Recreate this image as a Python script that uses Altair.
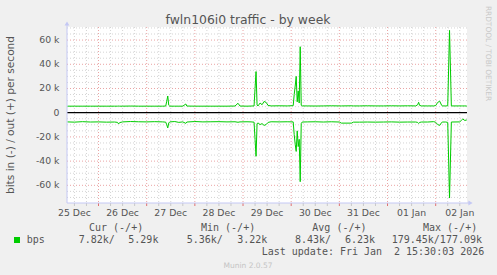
import altair as alt
import pandas as pd

# ---------------- data ----------------
# hours since 25 Dec 00:00
hours = [8.5, 12, 16, 20, 24, 28, 32, 33.5, 34, 34.5,
         36, 40, 44, 48, 52, 56, 57.5, 58, 58.5, 59,
         59.5, 62, 64, 66, 67.5, 68, 72, 76, 80, 84,
         88, 92, 93.5, 94.5, 98, 100, 101.5, 102, 102.5, 103,
         103.5, 104.5, 105.5, 106.5, 107.5, 108.5, 110, 114, 118, 121,
         121.5, 122, 122.5, 123, 123.5, 124, 124.5, 125, 125.5, 128,
         132, 136, 140, 144, 145, 150, 151, 154, 158, 162,
         166, 170, 174, 178, 182, 183, 183.5, 184, 185, 188,
         191, 192, 193, 194, 195, 195.5, 197, 198, 198.9, 199.8,
         204, 205, 205.5, 206.5, 207.5]
# out (+) in kbit/s
out_k = [5.4, 5.4, 5.4, 5.4, 5.4, 5.4, 5.4, 5.4, 5.5, 5.4,
         5.4, 5.5, 5.4, 5.4, 5.4, 5.4, 5.5, 9.5, 13.8, 6.2,
         5.4, 5.4, 5.4, 5.4, 7.2, 5.5, 5.4, 5.4, 5.4, 5.4,
         5.4, 5.5, 7.8, 5.5, 5.4, 5.5, 5.6, 20, 34, 6.2,
         5.6, 8.0, 6.6, 9.3, 8.5, 6.0, 5.6, 5.7, 5.6, 5.8,
         15, 22, 30, 9, 18, 8, 54.5, 6.2, 5.6, 5.6,
         5.5, 5.6, 5.7, 5.6, 5.6, 5.7, 5.6, 5.6, 5.7, 5.6,
         5.6, 5.7, 5.6, 5.7, 5.6, 6.5, 8.6, 6.0, 5.6, 5.6,
         5.6, 5.9, 8.5, 9.5, 6.0, 5.6, 5.6, 5.7, 68, 5.6,
         5.6, 5.6, 5.6, 5.6, 5.5]
# in (-) in kbit/s
in_k = [-7.6, -7.8, -7.4, -7.7, -7.6, -7.8, -7.7, -8.0, -9.3, -8.2,
        -7.6, -7.3, -7.5, -7.6, -7.4, -7.6, -7.8, -10.0, -12.6, -8.5,
        -7.6, -7.3, -8.0, -7.6, -8.8, -7.7, -7.3, -7.6, -7.5, -7.4,
        -7.6, -7.5, -7.9, -7.6, -7.5, -7.6, -7.8, -22, -36, -9.0,
        -8.5, -9.8, -9.0, -10.5, -9.8, -8.0, -7.5, -7.6, -7.5, -7.6,
        -18, -26, -32, -15, -28, -22, -57, -9, -7.7, -7.6,
        -7.5, -7.7, -7.5, -7.7, -8.6, -8.6, -7.8, -7.8, -7.7, -7.8,
        -7.7, -7.6, -7.8, -7.7, -7.7, -8.0, -8.9, -8.0, -7.7, -7.7,
        -7.4, -7.9, -9.8, -10.5, -8.0, -7.7, -7.7, -8.0, -70.5, -7.7,
        -7.6, -6.0, -5.2, -6.4, -6.0]
assert len(hours) == len(out_k) == len(in_k)

day_label_hours = [12, 36, 60, 84, 108, 132, 156, 180, 204]
day_labels = ["25 Dec", "26 Dec", "27 Dec", "28 Dec", "29 Dec",
              "30 Dec", "31 Dec", "01 Jan", "02 Jan"]
midnight_hours = [24, 48, 72, 96, 120, 144, 168, 192]
minor_hours = [12, 18, 30, 36, 42, 54, 60, 66, 78, 84, 90, 102, 108, 114,
               126, 132, 138, 150, 156, 162, 174, 180, 186, 198, 204]

ytick_vals = [-60000, -40000, -20000, 0, 20000, 40000, 60000]
ytick_labels = ["-60 k", "-40 k", "-20 k", "0", "20 k", "40 k", "60 k"]
y_major = [-60000, -40000, -20000, 20000, 40000, 60000]
y_minor = [-70000, -65000, -55000, -50000, -45000, -35000, -30000, -25000,
           -15000, -10000, -5000, 5000, 10000, 15000, 25000, 30000, 35000,
           45000, 50000, 55000, 65000, 70000]

title_text = "fwln106i0 traffic - by week"
y_title = "bits in (-) / out (+) per second"
series_name = "bps"
cur_vals = ["7.82k/", "5.29k"]
min_vals = ["5.36k/", "3.22k"]
avg_vals = ["8.43k/", "6.23k"]
max_vals = ["179.45k/177.09k"]
last_update = ["Last update: Fri Jan", "2 15:30:03 2026"]
munin_version = "Munin 2.0.57"
rrd_credit = "RRDTOOL / TOBI OETIKER"

# ---------------- layout ----------------
W, H = 497, 275
L, T = 67, 27
PW, PH = 400, 176
GREEN = "#00cc00"
TXT = "#555555"
AXC = "#c4c8f4"

xs = alt.Scale(domain=[8.3, 207.6], nice=False, zero=False)
ys = alt.Scale(domain=[-74600, 70800], nice=False, zero=False)

n = len(hours)
df = pd.DataFrame({
    "h": hours + hours,
    "v": [o * 1000 for o in out_k] + [i * 1000 for i in in_k],
    "s": ["out"] * n + ["in"] * n,
})


def vrules(vals, color, y0=0, y1=PH, dash=None):
    kw = dict(color=color, strokeWidth=1)
    if dash:
        kw["strokeDash"] = dash
    return alt.Chart(pd.DataFrame({"h": vals})).mark_rule(**kw).encode(
        x=alt.X("h:Q", scale=xs, axis=None), y=alt.value(y0), y2=alt.value(y1))


def hrules(vals, color, dash=None, width=1):
    kw = dict(color=color, strokeWidth=width)
    if dash:
        kw["strokeDash"] = dash
    return alt.Chart(pd.DataFrame({"v": vals})).mark_rule(**kw).encode(
        y=alt.Y("v:Q", scale=ys, axis=None), x=alt.value(0), x2=alt.value(PW))


def label(text, x, y, size=10, font="DejaVu Sans Mono", align="left",
          baseline="alphabetic", color=TXT, angle=0):
    return alt.Chart(alt.Data(values=[{"t": text}])).mark_text(
        align=align, baseline=baseline, font=font, fontSize=size,
        color=color, angle=angle).encode(
        text="t:N", x=alt.value(x - L), y=alt.value(y - T))


layers = [
    vrules(minor_hours, "#d4d4d4", dash=[1, 2]),
    hrules(y_minor, "#d4d4d4", dash=[1, 2]),
    vrules(midnight_hours, "#eaa4a4", dash=[1, 2]),
    hrules(y_major, "#eaa4a4", dash=[1, 2]),
    vrules(minor_hours, "#c8c8c8", y0=PH, y1=PH + 3),
    vrules(midnight_hours, "#e07070", y0=PH, y1=PH + 3),
    hrules([0], "#000000", width=1.2),
    alt.Chart(df).mark_line(color=GREEN, strokeWidth=1).encode(
        x=alt.X("h:Q", scale=xs, axis=None),
        y=alt.Y("v:Q", scale=ys, axis=None),
        detail="s:N"),
    # axes with arrows
    alt.Chart(alt.Data(values=[{}])).mark_rule(color=AXC, strokeWidth=1).encode(
        x=alt.value(0), x2=alt.value(PW + 3), y=alt.value(PH)),
    alt.Chart(alt.Data(values=[{}])).mark_rule(color=AXC, strokeWidth=1).encode(
        x=alt.value(0), y=alt.value(PH), y2=alt.value(-2)),
    alt.Chart(alt.Data(values=[{}])).mark_point(
        shape="triangle-up", filled=True, size=24, color=AXC, opacity=1).encode(
        x=alt.value(0), y=alt.value(-3.5)),
    alt.Chart(alt.Data(values=[{}])).mark_point(
        shape="triangle-right", filled=True, size=24, color=AXC, opacity=1).encode(
        x=alt.value(PW + 3.5), y=alt.value(PH)),
    # tick labels
    alt.Chart(pd.DataFrame({"h": day_label_hours, "t": day_labels})).mark_text(
        align="center", baseline="alphabetic", font="DejaVu Sans",
        fontSize=9.3, color=TXT).encode(
        x=alt.X("h:Q", scale=xs, axis=None), y=alt.value(216 - T), text="t:N"),
    alt.Chart(pd.DataFrame({"v": ytick_vals, "t": ytick_labels})).mark_text(
        align="right", baseline="middle", font="DejaVu Sans",
        fontSize=9.3, color=TXT).encode(
        y=alt.Y("v:Q", scale=ys, axis=None), x=alt.value(59.5 - L), text="t:N"),
    # titles
    label(title_text, 248, 24, size=12.4, font="DejaVu Sans", align="center"),
    label(y_title, 11, 115, size=10.6, font="DejaVu Sans", align="center",
          baseline="middle", angle=270),
    label(rrd_credit, 488, 53.5, size=7.4, font="DejaVu Sans", align="center",
          baseline="middle", color="#c8c8c8", angle=90),
    # legend
    label("Cur (-/+)", 89, 230.7),
    label("Min (-/+)", 201, 230.7),
    label("Avg (-/+)", 312.3, 230.7),
    label("Max (-/+)", 423, 230.7),
    alt.Chart(alt.Data(values=[{}])).mark_rect(color=GREEN).encode(
        x=alt.value(14 - L), x2=alt.value(20 - L),
        y=alt.value(237 - T), y2=alt.value(243 - T)),
    label(series_name, 26.7, 243.3),
    label(cur_vals[0], 78.7, 243.3),
    label(cur_vals[1], 128.3, 243.3),
    label(min_vals[0], 186.7, 243.3),
    label(min_vals[1], 237.2, 243.3),
    label(avg_vals[0], 295, 243.3),
    label(avg_vals[1], 345, 243.3),
    label(max_vals[0], 391.7, 243.3),
    label(last_update[0], 261.7, 255),
    label(last_update[1], 394, 255),
    label(munin_version, 248, 267.5, size=7.5, font="DejaVu Sans",
          align="center", color="#c4c4c4"),
]

chart = alt.layer(*layers).properties(
    width=PW, height=PH,
    padding={"left": L, "top": T, "right": W - L - PW, "bottom": H - T - PH},
    autosize=alt.AutoSizeParams(type="none"),
    background="#f0f0f0",
).configure_view(stroke=None, fill="white")

chart.save("out.html", embed_options={"renderer": "svg", "actions": False})
